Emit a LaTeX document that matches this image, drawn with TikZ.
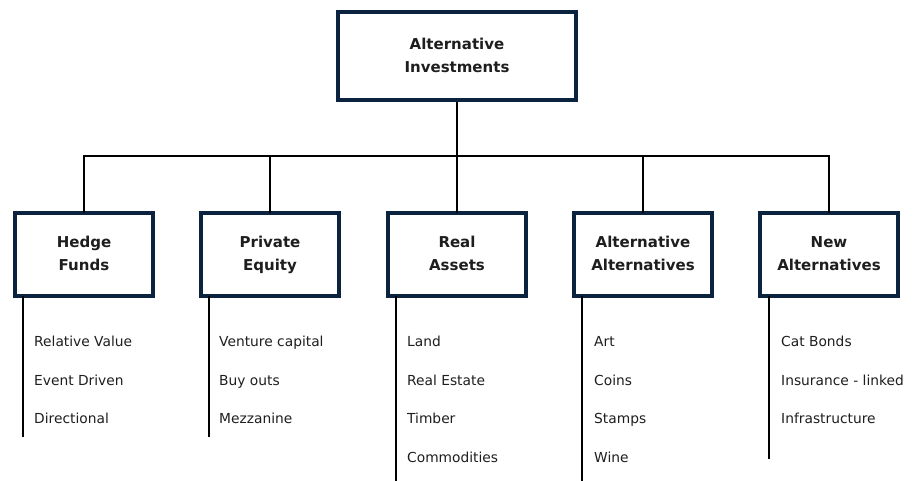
\documentclass[tikz,border=0pt]{standalone}
\usepackage{fontspec}
\setmainfont{DejaVu Sans}
\definecolor{navy}{RGB}{12,35,64}
\definecolor{txt}{RGB}{30,30,30}
\newcommand\twolines[2]{#1\strut\\#2\strut}
\begin{document}
\begin{tikzpicture}[x=1pt,y=-1pt,
 box/.style={draw=navy, line width=4pt, fill=white, minimum width=138pt, minimum height=83pt, inner sep=0pt, align=center, text=txt, font=\bfseries\fontsize{15}{23}\selectfont},
 rootbox/.style={box, minimum width=238pt, minimum height=88pt},
 conn/.style={draw=black, line width=1.8pt},
 item/.style={anchor=west, inner sep=0pt, text=txt, font=\fontsize{13.8}{15}\selectfont, text height=10pt, text depth=3pt}]
\useasboundingbox (0,0) rectangle (916,481);
\coordinate (bar) at (457,156);
\coordinate (hfend) at (23,437);
\coordinate (peend) at (209,437);
\coordinate (raend) at (396,481);
\coordinate (aaend) at (582,481);
\coordinate (naend) at (769,459);
% nodes
\node[rootbox] (root) at (457,56) {\twolines{Alternative}{Investments}};
\node[box] (hf) at (84,254.5) {\twolines{Hedge}{Funds}};
\node[box] (pe) at (270,254.5) {\twolines{Private}{Equity}};
\node[box] (ra) at (457,254.5) {\twolines{Real}{Assets}};
\node[box] (aa) at (643,254.5) {\twolines{Alternative}{Alternatives}};
\node[box] (na) at (829,254.5) {\twolines{New}{Alternatives}};
% tree connectors
\draw[conn] (root.south) -- (bar);
\draw[conn] ([yshift=-2pt]hf.north) -- (hf.north |- bar) -- (na.north |- bar) -- ([yshift=-2pt]na.north);
\draw[conn] ([yshift=-2pt]pe.north) -- (pe.north |- bar);
\draw[conn] ([yshift=-2pt]ra.north) -- (ra.north |- bar);
\draw[conn] ([yshift=-2pt]aa.north) -- (aa.north |- bar);
% list lines
\draw[conn] ([yshift=2pt]hf.south -| hfend) -- (hfend);
\draw[conn] ([yshift=2pt]pe.south -| peend) -- (peend);
\draw[conn] ([yshift=2pt]ra.south -| raend) -- (raend);
\draw[conn] ([yshift=2pt]aa.south -| aaend) -- (aaend);
\draw[conn] ([yshift=2pt]na.south -| naend) -- (naend);
% items
\node[item] (hf1) at (34,343) {Relative Value};
\node[item] (hf2) at (34,381.5) {Event Driven};
\node[item] (hf3) at (34,420) {Directional};
\node[item] (pe1) at (219,343) {Venture capital};
\node[item] (pe2) at (219,381.5) {Buy outs};
\node[item] (pe3) at (219,420) {Mezzanine};
\node[item] (ra1) at (407,343) {Land};
\node[item] (ra2) at (407,381.5) {Real Estate};
\node[item] (ra3) at (407,420) {Timber};
\node[item] (ra4) at (407,458.5) {Commodities};
\node[item] (aa1) at (594,343) {Art};
\node[item] (aa2) at (594,381.5) {Coins};
\node[item] (aa3) at (594,420) {Stamps};
\node[item] (aa4) at (594,458.5) {Wine};
\node[item] (na1) at (781,343) {Cat Bonds};
\node[item] (na2) at (781,381.5) {Insurance - linked};
\node[item] (na3) at (781,420) {Infrastructure};
\end{tikzpicture}
\end{document}
